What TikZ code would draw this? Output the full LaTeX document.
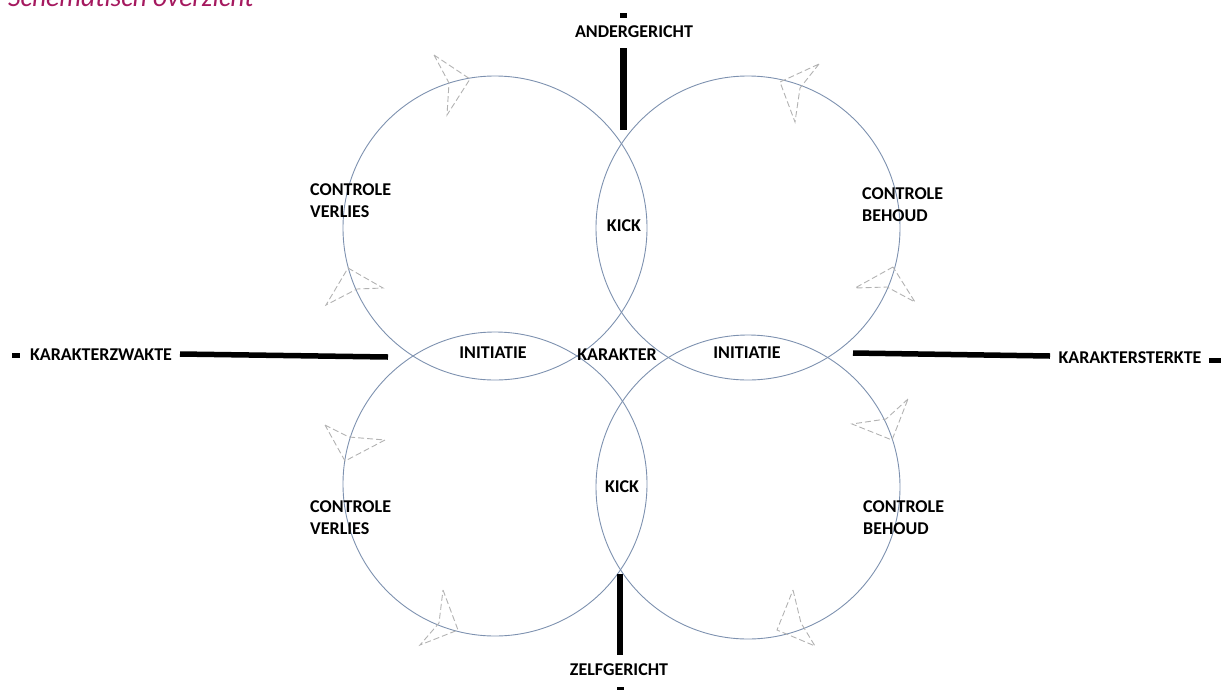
\documentclass[tikz,border=0pt]{standalone}
\usepackage{fontspec}
\setmainfont{Carlito}
\usetikzlibrary{positioning}

\definecolor{ringblue}{RGB}{125,145,175}
\definecolor{titlemagenta}{RGB}{165,25,95}
\definecolor{dartgray}{RGB}{178,178,178}

\tikzset{
  ring/.style={draw=ringblue, line width=0.9pt},
  lab/.style={font=\fontsize{18}{22}\selectfont\bfseries, inner sep=0pt},
  twolab/.style={lab, align=left, anchor=west},
  bar/.style={line width=5.5pt},
  tick/.style={fill=black, inner sep=0pt, minimum width=7pt, minimum height=5pt},
  dart/.style={draw=dartgray, line width=0.9pt, dash pattern=on 6pt off 3pt},
}

\begin{document}
\begin{tikzpicture}[x=1pt, y=-1pt]
    \useasboundingbox (0,0) rectangle (1221,689);

    \node[anchor=base west, inner sep=0pt, text=titlemagenta,
          font=\fontsize{27.5}{32}\selectfont\itshape] (title) at (8,6) {Schematisch overzicht};

    % vier cirkels
    \draw[ring] (495,228) circle (152);
    \draw[ring] (748,228) circle (152);
    \draw[ring] (495,484) circle (152);
    \draw[ring] (748,487) circle (152);

    % pijlpunten
    \draw[dart] (434,55) -- (470,79) -- (447,115) -- (449,83) -- cycle;
    \draw[dart] (819,64) -- (800,88) -- (795,122) -- (780,82) -- cycle;
    \draw[dart] (348,268) -- (383,288) -- (357,289) -- (326,305) -- cycle;
    \draw[dart] (893,267) -- (855,288) -- (887,287) -- (915,302) -- cycle;
    \draw[dart] (325,425) -- (349,437) -- (385,440) -- (345,461) -- cycle;
    \draw[dart] (908,399) -- (886,419) -- (852,424) -- (892,440) -- cycle;
    \draw[dart] (443,590) -- (458,630) -- (420,645) -- (439,623) -- cycle;
    \draw[dart] (793,590) -- (801,623) -- (815,646) -- (777,630) -- cycle;

    \node[twolab] (verliesA) at (310,201) {CONTROLE\\VERLIES};
    \node[twolab] (behoudA)  at (862,205) {CONTROLE\\BEHOUD};
    \node[twolab] (verliesB) at (310,518) {CONTROLE\\VERLIES};
    \node[twolab] (behoudB)  at (863,518) {CONTROLE\\BEHOUD};
    \node[lab] (kickA) at (624,226) {KICK};
    \node[lab] (kickB) at (622,487) {KICK};
    \node[lab] (initA) at (493,353) {INITIATIE};
    \node[lab] (initB) at (747,353) {INITIATIE};
    \node[lab] (kar)   at (617,355) {KARAKTER};

    % assen
    \node[tick] (nTick) at (623,15) {};
    \node[lab] (ander) at (634,32) {ANDERGERICHT};
    \coordinate (nA) at (623,48);
    \coordinate (nB) at (623,130);
    \draw[bar, line width=7pt] (nA) -- (nB);

    \node[tick] (sTick) at (620,689) {};
    \node[lab] (zelf) at (619,670) {ZELFGERICHT};
    \coordinate (sA) at (620,574);
    \coordinate (sB) at (620,655);
    \draw[bar, line width=6pt] (sA) -- (sB);

    \node[tick, minimum width=8pt] (wTick) at (16,355) {};
    \node[lab] (zwak) at (101,355) {KARAKTERZWAKTE};
    \coordinate (wA) at (180,354);
    \coordinate (wB) at (388,357);
    \draw[bar] (wA) -- (wB);

    \node[tick, minimum width=13pt] (eTick) at (1215,360) {};
    \node[lab] (sterk) at (1130,358) {KARAKTERSTERKTE};
    \coordinate (eA) at (853,353);
    \coordinate (eB) at (1050,356);
    \draw[bar] (eA) -- (eB);
\end{tikzpicture}
\end{document}
